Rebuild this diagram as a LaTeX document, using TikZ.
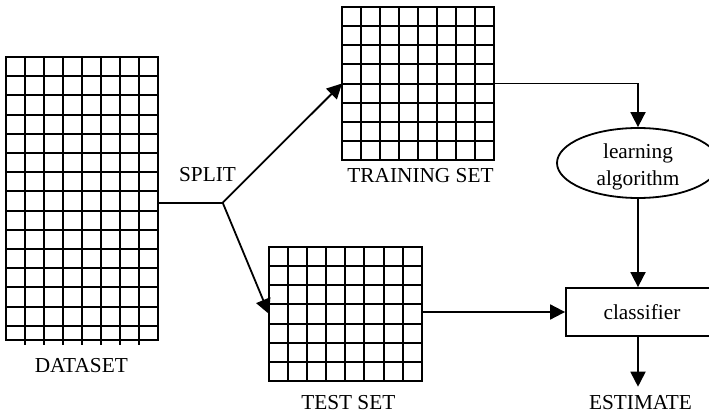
\documentclass[tikz,border=0pt]{standalone}
\usepackage{fontspec}
\setmainfont{Liberation Serif}
\usetikzlibrary{arrows.meta,shapes.geometric}
\begin{document}
\begin{tikzpicture}[x=1pt,y=-1pt,
  gridline/.style={line width=2pt},
  conn/.style={line width=1.8pt},
  arr/.style={conn,-{Triangle[length=15pt,width=15pt]}},
  lbl/.style={inner sep=0pt,font=\fontsize{21.3}{27}\selectfont},
  area/.style={inner sep=0pt,outer sep=0pt,anchor=north west}]
\useasboundingbox (0,0) rectangle (709,414);
\clip (0,0) rectangle (709,414);
% DATASET grid
\node[area,minimum width=152pt,minimum height=283pt] (dataset) at (6,57) {};
\foreach \y in {76,95,115,134,153,172,191,211,230,249,268,287,307,326} \draw[gridline] (6,\y) -- (158,\y);
\foreach \x in {25,44,63,82,101,120,139} \draw[gridline] (\x,57) -- (\x,345);
\draw[gridline] (dataset.north west) rectangle (dataset.south east);
% TRAINING grid
\node[area,minimum width=152pt,minimum height=153pt] (train) at (342,7) {};
\foreach \y in {26,45,64,84,103,122,141} \draw[gridline] (342,\y) -- (494,\y);
\foreach \x in {361,380,399,418,437,456,475} \draw[gridline] (\x,7) -- (\x,160);
\draw[gridline] (train.north west) rectangle (train.south east);
% TEST grid
\node[area,minimum width=153pt,minimum height=134pt] (test) at (269,247) {};
\foreach \y in {266,285,304,324,343,362} \draw[gridline] (269,\y) -- (422,\y);
\foreach \x in {288,307,326,345,364,384,403} \draw[gridline] (\x,247) -- (\x,381);
\draw[gridline] (test.north west) rectangle (test.south east);
% labels
\node[lbl] (splitlbl) at (207.5,174.5) {SPLIT};
\node[lbl] (datalbl) at (81.3,366) {DATASET};
\node[lbl] (trainlbl) at (420.5,175.5) {TRAINING SET};
\node[lbl] (testlbl) at (348.3,403) {TEST SET};
\node[lbl] (est) at (640.5,403) {ESTIMATE};
% learning algorithm
\node[draw,ellipse,conn,minimum width=162pt,minimum height=70pt,inner sep=0pt] (learn) at (638,163) {};
\node[lbl,align=center] (learntext) at (638,167) {learning\\algorithm};
% classifier
\node[draw,conn,lbl,minimum width=152pt,minimum height=48pt] (cls) at (642,312) {classifier};
% connectors
\coordinate (split) at (222.7,202.7);
\coordinate (estarrow) at (638,386.7);
\draw[conn] (split -| dataset.east) -- (split);
\draw[arr] (split) -- (train.west);
\draw[arr] (split) -- (test.west);
\draw[arr] (train.east) -| (learn.north);
\draw[arr] (learn.south) -- (learn.south |- cls.north);
\draw[arr] (cls.west -| test.east) -- (cls.west);
\draw[arr] (learn.south |- cls.south) -- (estarrow);
\end{tikzpicture}
\end{document}
